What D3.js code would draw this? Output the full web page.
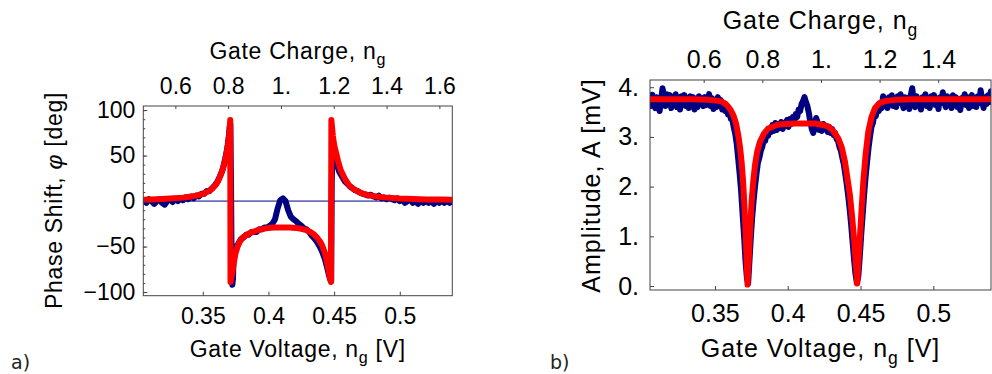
<!DOCTYPE html>
<html>
<head>
<meta charset="utf-8">
<script src="https://cdn.jsdelivr.net/npm/d3@7"></script>
<style>
  body { margin: 0; background: #fff; }
  svg { display: block; font-family: "Liberation Sans", Arial, sans-serif; }
</style>
</head>
<body>
<svg id="chart" width="992" height="374"></svg>
<script>
// ---- data: [gate voltage (V), value] ----
const phaseData = [
  [0.305, 0], [0.307, -2], [0.309, 2], [0.311, 0], [0.313, -3], [0.315, 0], [0.317, 2], [0.319, -2],
  [0.321, -4], [0.323, 0], [0.325, 2], [0.327, -1], [0.329, 2], [0.331, 0], [0.333, 3], [0.335, 1],
  [0.337, 4], [0.339, 2], [0.341, 5], [0.343, 3], [0.345, 6], [0.347, 5], [0.349, 8], [0.351, 8],
  [0.353, 11], [0.355, 11], [0.357, 14], [0.359, 17], [0.361, 21], [0.363, 27], [0.365, 34], [0.366, 40],
  [0.367, 46], [0.368, 53], [0.369, 62], [0.370, 73], [0.3705, 82], [0.371, 85], [0.3715, 20], [0.372, -80],
  [0.3725, -92], [0.373, -85], [0.3735, -60], [0.3745, -50], [0.3755, -52], [0.377, -47], [0.379, -42],
  [0.381, -40], [0.383, -37], [0.385, -37], [0.387, -34], [0.389, -34], [0.391, -34], [0.393, -31],
  [0.395, -31], [0.397, -29], [0.399, -29], [0.401, -27], [0.403, -25], [0.405, -20], [0.407, -8],
  [0.409, 1], [0.411, 3], [0.413, 0], [0.415, -10], [0.417, -17], [0.419, -20], [0.421, -22], [0.423, -25],
  [0.425, -27], [0.427, -30], [0.429, -31], [0.431, -34], [0.433, -38], [0.435, -41], [0.437, -45],
  [0.439, -50], [0.441, -56], [0.443, -64], [0.445, -75], [0.446, -81], [0.447, -86], [0.4478, -88],
  [0.4482, 20], [0.4487, 55], [0.450, 50], [0.452, 40], [0.454, 32], [0.456, 27], [0.458, 22], [0.460, 19],
  [0.462, 16], [0.464, 14], [0.466, 12], [0.468, 11], [0.470, 9], [0.472, 8], [0.474, 7], [0.476, 6],
  [0.478, 7], [0.480, 5], [0.482, 4], [0.484, 6], [0.486, 3], [0.488, 4], [0.490, 2], [0.492, 4],
  [0.494, 2], [0.496, 1], [0.498, 3], [0.500, 0], [0.502, 2], [0.504, -2], [0.506, 0], [0.508, 2],
  [0.510, -2], [0.512, 0], [0.514, -3], [0.516, 1], [0.518, -2], [0.520, 1], [0.522, -2], [0.524, 0],
  [0.526, -3], [0.528, 0], [0.530, -2], [0.532, 1], [0.534, -2], [0.536, 0], [0.538, -2], [0.540, 0]
];

const phaseFit = [
  [0.305, 1.5], [0.315, 2], [0.325, 2.8], [0.335, 3.8], [0.340, 4.7], [0.345, 6], [0.350, 8],
  [0.354, 10.5], [0.357, 13.5], [0.360, 18], [0.362, 23], [0.364, 30], [0.366, 39], [0.3675, 48],
  [0.369, 60], [0.370, 72], [0.3705, 80], [0.3709, 89], [0.3711, -89], [0.3718, -84], [0.3728, -76],
  [0.3738, -66], [0.375, -57], [0.3765, -50], [0.378, -45], [0.3805, -40], [0.3835, -37], [0.3875, -34],
  [0.392, -32], [0.398, -30], [0.404, -29], [0.410, -29], [0.416, -29], [0.421, -29.5], [0.425, -30.5],
  [0.429, -32], [0.432, -34], [0.435, -37], [0.4375, -41], [0.4395, -45], [0.441, -49], [0.443, -57],
  [0.4445, -66], [0.4458, -76], [0.4468, -84], [0.4476, -89], [0.4479, 89], [0.4485, 80], [0.449, 72],
  [0.450, 62], [0.4515, 53], [0.453, 44], [0.455, 34], [0.458, 25], [0.461, 18], [0.465, 13],
  [0.470, 9], [0.476, 6.5], [0.482, 5], [0.490, 3.8], [0.500, 2.8], [0.510, 2.2], [0.520, 1.8],
  [0.530, 1.6], [0.540, 1.5]
];

const ampData = [
  [0.305, 3.80], [0.306, 3.62], [0.307, 3.85], [0.308, 3.70], [0.309, 3.58], [0.310, 3.80], [0.311, 3.66],
  [0.312, 3.52], [0.313, 3.74], [0.314, 3.98], [0.315, 3.82], [0.316, 3.62], [0.317, 3.86], [0.318, 3.70],
  [0.319, 3.84], [0.320, 3.58], [0.321, 3.80], [0.322, 3.68], [0.323, 3.86], [0.324, 3.60], [0.325, 3.78],
  [0.326, 3.55], [0.327, 3.82], [0.328, 3.70], [0.329, 3.84], [0.330, 3.62], [0.331, 3.76], [0.332, 3.58],
  [0.333, 3.82], [0.334, 3.66], [0.335, 3.80], [0.336, 3.55], [0.337, 3.72], [0.338, 3.60], [0.339, 3.82],
  [0.340, 3.68], [0.341, 3.78], [0.342, 3.62], [0.343, 3.80], [0.344, 3.64], [0.345, 3.76], [0.346, 3.86],
  [0.347, 3.62], [0.348, 3.78], [0.349, 3.56], [0.350, 3.74], [0.351, 3.60], [0.352, 3.80], [0.353, 3.66],
  [0.354, 3.74], [0.355, 3.55], [0.356, 3.68], [0.357, 3.52], [0.358, 3.58], [0.359, 3.45], [0.360, 3.50],
  [0.361, 3.36], [0.362, 3.34], [0.363, 3.18], [0.364, 3.05], [0.365, 2.85], [0.366, 2.55], [0.367, 2.25],
  [0.368, 1.90], [0.369, 1.45], [0.370, 1.00], [0.371, 0.50], [0.372, 0.15], [0.3728, 0.05], [0.3735, 0.40],
  [0.3745, 0.90], [0.3755, 1.35], [0.3765, 1.70], [0.3775, 2.00], [0.3785, 2.25], [0.3795, 2.48],
  [0.3805, 2.58], [0.3815, 2.72], [0.3825, 2.80], [0.3835, 2.95], [0.3845, 2.92], [0.3855, 3.08],
  [0.3865, 3.02], [0.3875, 3.16], [0.3885, 3.10], [0.3895, 3.24], [0.3905, 3.12], [0.3915, 3.28],
  [0.3925, 3.14], [0.3935, 3.26], [0.3945, 3.18], [0.3955, 3.30], [0.3965, 3.16], [0.3975, 3.28],
  [0.3985, 3.22], [0.3995, 3.34], [0.4005, 3.20], [0.4015, 3.36], [0.4025, 3.26], [0.4035, 3.40],
  [0.4045, 3.32], [0.4055, 3.46], [0.4065, 3.40], [0.4075, 3.55], [0.4085, 3.52], [0.4095, 3.66],
  [0.4105, 3.72], [0.4115, 3.80], [0.4125, 3.70], [0.4135, 3.62], [0.4145, 3.48], [0.4155, 3.30],
  [0.4165, 3.16], [0.4175, 3.08], [0.4185, 3.20], [0.4195, 3.38], [0.4205, 3.30], [0.4215, 3.14],
  [0.4225, 3.24], [0.4235, 3.12], [0.4245, 3.26], [0.4255, 3.16], [0.4265, 3.22], [0.4275, 3.10],
  [0.4285, 3.20], [0.4295, 3.08], [0.4305, 3.16], [0.4315, 3.04], [0.4325, 3.08], [0.4335, 2.96],
  [0.4345, 2.92], [0.4355, 2.80], [0.4365, 2.72], [0.4375, 2.58], [0.4385, 2.45], [0.4395, 2.25],
  [0.4405, 2.05], [0.4415, 1.82], [0.4425, 1.55], [0.4435, 1.25], [0.4445, 0.90], [0.4455, 0.55],
  [0.4465, 0.25], [0.4475, 0.06], [0.4485, 0.20], [0.4495, 0.60], [0.4505, 1.05], [0.4515, 1.45],
  [0.4525, 1.85], [0.4535, 2.20], [0.4545, 2.50], [0.4555, 2.78], [0.4565, 3.00], [0.4575, 3.20],
  [0.4585, 3.28], [0.4595, 3.45], [0.4605, 3.42], [0.4615, 3.58], [0.4625, 3.52], [0.4635, 3.66],
  [0.4645, 3.58], [0.4655, 3.82], [0.4665, 3.62], [0.4675, 3.76], [0.4685, 3.58], [0.4695, 3.80],
  [0.4705, 3.66], [0.4715, 3.84], [0.4725, 3.62], [0.4735, 3.78], [0.4745, 3.60], [0.4755, 3.82],
  [0.4765, 3.68], [0.4775, 3.86], [0.4785, 3.70], [0.4795, 3.58], [0.4805, 3.80], [0.4815, 3.64],
  [0.4825, 3.78], [0.4835, 3.56], [0.4845, 3.84], [0.4855, 3.98], [0.4865, 3.72], [0.4875, 3.60],
  [0.4885, 3.82], [0.4895, 3.66], [0.4905, 3.76], [0.4915, 3.55], [0.4925, 3.80], [0.4935, 3.68],
  [0.4945, 3.86], [0.4955, 3.62], [0.4965, 3.78], [0.4975, 3.58], [0.4985, 3.82], [0.4995, 3.70],
  [0.5005, 3.84], [0.5015, 3.64], [0.5025, 3.76], [0.5035, 3.56], [0.5045, 3.80], [0.5055, 3.68],
  [0.5065, 3.90], [0.5075, 3.72], [0.5085, 3.60], [0.5095, 3.82], [0.5105, 3.66], [0.5115, 3.78],
  [0.5125, 3.58], [0.5135, 3.84], [0.5145, 3.70], [0.5155, 3.80], [0.5165, 3.60], [0.5175, 3.76],
  [0.5185, 3.54], [0.5195, 3.78], [0.5205, 3.66], [0.5215, 3.86], [0.5225, 3.64], [0.5235, 3.80],
  [0.5245, 3.58], [0.5255, 3.74], [0.5265, 3.84], [0.5275, 3.62], [0.5285, 3.78], [0.5295, 3.60],
  [0.5305, 3.82], [0.5315, 3.68], [0.5325, 3.94], [0.5335, 3.74], [0.5345, 3.58], [0.5355, 3.80],
  [0.5365, 3.66], [0.5375, 3.84], [0.5385, 3.70], [0.5395, 3.92]
];

const ampFit = [
  [0.305, 3.76], [0.320, 3.76], [0.335, 3.76], [0.3445, 3.75], [0.3477, 3.74], [0.3515, 3.73],
  [0.3546, 3.71], [0.3571, 3.67], [0.3591, 3.61], [0.361, 3.53], [0.3626, 3.44], [0.3645, 3.27],
  [0.366, 3.04], [0.3672, 2.80], [0.3683, 2.50], [0.3693, 2.12], [0.3701, 1.70], [0.3709, 1.22],
  [0.3715, 0.76], [0.372, 0.35], [0.3724, 0.03], [0.3729, 0.35], [0.3736, 0.76], [0.3744, 1.25],
  [0.3752, 1.70], [0.3763, 2.10], [0.3775, 2.43], [0.379, 2.70], [0.3809, 2.90], [0.3835, 3.06],
  [0.3866, 3.17], [0.3935, 3.25], [0.4049, 3.27], [0.4187, 3.27], [0.424, 3.24], [0.4278, 3.21],
  [0.431, 3.13], [0.4347, 2.97], [0.4372, 2.78], [0.4393, 2.50], [0.441, 2.17], [0.4427, 1.83],
  [0.4442, 1.40], [0.4455, 0.96], [0.4467, 0.48], [0.4477, 0.05], [0.4486, 0.50], [0.4496, 0.99],
  [0.4508, 1.58], [0.4519, 2.10], [0.4535, 2.65], [0.4553, 3.10], [0.4575, 3.40], [0.4599, 3.58],
  [0.463, 3.68], [0.4668, 3.72], [0.475, 3.75], [0.4874, 3.76], [0.510, 3.76], [0.540, 3.76]
];

// ---- axes: ticks and labels ----
const voltTicks = [0.35, 0.4, 0.45, 0.5];
const voltLabels = ["0.35", "0.4", "0.45", "0.5"];
const chargeTicksA = [0.6, 0.8, 1.0, 1.2, 1.4, 1.6];
const chargeLabelsA = ["0.6", "0.8", "1.", "1.2", "1.4", "1.6"];
const chargeTicksB = [0.6, 0.8, 1.0, 1.2, 1.4];
const chargeLabelsB = ["0.6", "0.8", "1.", "1.2", "1.4"];
const phaseTicks = [100, 50, 0, -50, -100];
const phaseLabels = ["100", "50", "0", "\u221250", "\u2212100"];
const phaseMinorTicks = d3.range(-100, 101, 10);
const ampTicks = [4, 3, 2, 1, 0];
const ampLabels = ["4.", "3.", "2.", "1.", "0."];

const voltDomainA = [0.3047, 0.540];
const voltDomainB = [0.3054, 0.5396];
const chargeDomainA = [0.4786, 1.649];
const chargeDomainB = [0.4169, 1.580];
const phaseDomain = [-104, 104.5];
const ampDomain = [-0.08, 4.145];

const svg = d3.select("#chart");
const frameColor = "#444";
const dataColor = "#000080";
const fitColor = "#ff0000";

function labelWithSub(sel, before, sub, after, size) {
  sel.append("tspan").text(before);
  sel.append("tspan").attr("font-size", size * 0.7).attr("dy", size * 0.28).text(sub);
  if (after) sel.append("tspan").attr("dy", -size * 0.28).text(after);
}

function styleAxis(g, size) {
  g.select(".domain").remove();
  g.selectAll(".tick line").attr("stroke", frameColor).attr("stroke-width", 1);
  g.selectAll(".tick text")
    .attr("font-family", "'Liberation Sans', Arial, sans-serif")
    .attr("font-size", size)
    .attr("fill", "#000");
}

function drawPanel(p) {
  const g = svg.append("g");
  const x = d3.scaleLinear().domain(p.xDomain).range([p.left, p.right]);
  const xTop = d3.scaleLinear().domain(p.chargeDomain).range([p.left, p.right]);
  const y = d3.scaleLinear().domain(p.yDomain).range([p.bottom, p.top]);

  const clipId = "clip-" + p.id;
  g.append("clipPath").attr("id", clipId)
    .append("rect")
    .attr("x", p.left).attr("y", p.top)
    .attr("width", p.right - p.left).attr("height", p.bottom - p.top);

  const plot = g.append("g").attr("clip-path", `url(#${clipId})`);

  if (p.zeroLine) {
    plot.append("line")
      .attr("x1", x(p.xDomain[0])).attr("x2", x(p.xDomain[1]))
      .attr("y1", y(0)).attr("y2", y(0))
      .attr("stroke", dataColor).attr("stroke-width", 1);
  }

  const line = d3.line().x(d => x(d[0])).y(d => y(d[1]));

  plot.append("path")
    .datum(p.data)
    .attr("d", line)
    .attr("fill", "none")
    .attr("stroke", dataColor)
    .attr("stroke-width", p.dataWidth)
    .attr("stroke-linejoin", "round")
    .attr("stroke-linecap", "round");

  plot.append("path")
    .datum(p.fit)
    .attr("d", line)
    .attr("fill", "none")
    .attr("stroke", fitColor)
    .attr("stroke-width", 6)
    .attr("stroke-linejoin", "round")
    .attr("stroke-linecap", "round");

  // frame
  g.append("rect")
    .attr("x", p.left).attr("y", p.top)
    .attr("width", p.right - p.left).attr("height", p.bottom - p.top)
    .attr("fill", "none").attr("stroke", frameColor).attr("stroke-width", 1);

  // bottom axis (gate voltage)
  const bottomAxis = g.append("g")
    .attr("transform", `translate(0,${p.bottom})`)
    .call(d3.axisBottom(x).tickValues(voltTicks)
      .tickFormat((d, i) => voltLabels[i]).tickSize(-4).tickPadding(p.bottomPad));
  styleAxis(bottomAxis, p.fontSize);

  // top axis (gate charge)
  const topAxis = g.append("g")
    .attr("transform", `translate(0,${p.top})`)
    .call(d3.axisTop(xTop).tickValues(p.chargeTicks)
      .tickFormat((d, i) => p.chargeLabels[i]).tickSize(-3).tickPadding(p.topPad));
  styleAxis(topAxis, p.fontSize);

  // left axis
  if (p.yMinor) {
    const minor = g.append("g")
      .attr("transform", `translate(${p.left},0)`)
      .call(d3.axisLeft(y).tickValues(p.yMinor).tickFormat("").tickSize(-2));
    styleAxis(minor, p.fontSize);
  }
  const leftAxis = g.append("g")
    .attr("transform", `translate(${p.left},0)`)
    .call(d3.axisLeft(y).tickValues(p.yTicks)
      .tickFormat((d, i) => p.yLabels[i]).tickSize(-4).tickPadding(p.leftPad));
  styleAxis(leftAxis, p.fontSize);

  const cx = (p.left + p.right) / 2;

  const topTitle = g.append("text")
    .attr("x", cx).attr("y", p.topTitleY)
    .attr("text-anchor", "middle")
    .attr("font-size", p.fontSize)
    .attr("letter-spacing", p.spacing);
  labelWithSub(topTitle, "Gate Charge, n", "g", null, p.fontSize);

  const bottomTitle = g.append("text")
    .attr("x", cx).attr("y", p.bottomTitleY)
    .attr("text-anchor", "middle")
    .attr("font-size", p.fontSize)
    .attr("letter-spacing", p.spacing);
  labelWithSub(bottomTitle, "Gate Voltage, n", "g", " [V]", p.fontSize);

  const yTitle = g.append("text")
    .attr("transform", `translate(${p.yTitleX},${p.yTitleY}) rotate(-90)`)
    .attr("text-anchor", "middle")
    .attr("font-size", p.fontSize)
    .attr("letter-spacing", p.spacing);
  p.yTitle(yTitle);

  g.append("text")
    .attr("x", p.tagX).attr("y", 369)
    .attr("font-family", "'DejaVu Sans', sans-serif")
    .attr("font-size", 19)
    .attr("fill", "#222")
    .text(p.tag);
}

drawPanel({
  id: "a",
  left: 143.3, right: 452.3, top: 106, bottom: 295.7,
  xDomain: voltDomainA, chargeDomain: chargeDomainA, yDomain: phaseDomain,
  chargeTicks: chargeTicksA, chargeLabels: chargeLabelsA,
  yTicks: phaseTicks, yLabels: phaseLabels, yMinor: phaseMinorTicks,
  data: phaseData, fit: phaseFit, dataWidth: 6, zeroLine: true,
  fontSize: 23, spacing: 0.7,
  bottomPad: 12, topPad: 12, leftPad: 8,
  topTitleY: 59, bottomTitleY: 357,
  yTitleX: 62, yTitleY: 200.5,
  yTitle: t => {
    t.append("tspan").text("Phase Shift, ");
    t.append("tspan").attr("font-style", "italic").text("\u03c6");
    t.append("tspan").text(" [deg]");
  },
  tagX: 11, tag: "a)"
});

drawPanel({
  id: "b",
  left: 650, right: 991, top: 80, bottom: 290,
  xDomain: voltDomainB, chargeDomain: chargeDomainB, yDomain: ampDomain,
  chargeTicks: chargeTicksB, chargeLabels: chargeLabelsB,
  yTicks: ampTicks, yLabels: ampLabels, yMinor: null,
  data: ampData, fit: ampFit, dataWidth: 6, zeroLine: false,
  fontSize: 25, spacing: 1,
  bottomPad: 14, topPad: 12, leftPad: 11,
  topTitleY: 29, bottomTitleY: 357,
  yTitleX: 600, yTitleY: 185.5,
  yTitle: t => { t.append("tspan").text("Amplitude, A [mV]"); },
  tagX: 550, tag: "b)"
});
</script>
</body>
</html>
